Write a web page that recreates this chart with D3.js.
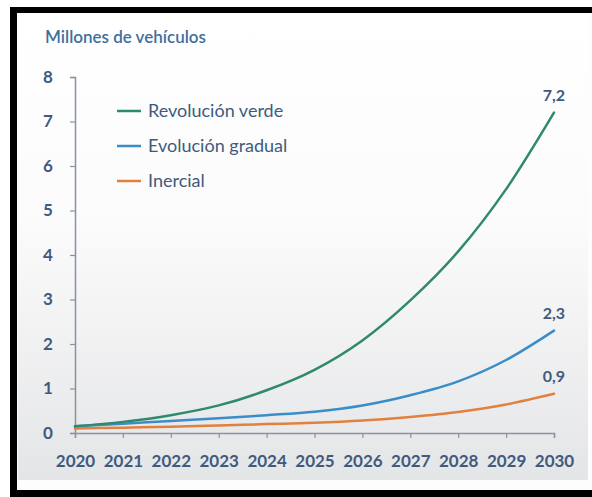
<!DOCTYPE html>
<html>
<head>
<meta charset="utf-8">
<script src="https://cdn.jsdelivr.net/npm/d3@7"></script>
<style>
  html, body { margin: 0; padding: 0; background: #fff; }
  text { font-family: Lato, "Open Sans", sans-serif; }
</style>
</head>
<body>
<div id="chart"></div>
<script>
// data
const years = [2020, 2021, 2022, 2023, 2024, 2025, 2026, 2027, 2028, 2029, 2030]
const revolucionVerde = [0.15, 0.25, 0.40, 0.62, 0.96, 1.42, 2.08, 2.98, 4.08, 5.48, 7.2]
const evolucionGradual = [0.15, 0.21, 0.27, 0.33, 0.40, 0.48, 0.62, 0.85, 1.16, 1.64, 2.3]
const inercial = [0.10, 0.12, 0.14, 0.17, 0.20, 0.23, 0.28, 0.36, 0.47, 0.64, 0.88]
const seriesNames = ["Revolución verde", "Evolución gradual", "Inercial"]
const endLabels = ["7,2", "2,3", "0,9"]
const yTicks = [0, 1, 2, 3, 4, 5, 6, 7, 8]
const colors = ["#2f8a6a", "#3b8dc9", "#e2803f"]

const W = 592, H = 497
const svg = d3.select("#chart").append("svg")
    .attr("width", W).attr("height", H)

// background and frame
const defs = svg.append("defs")
const grad = defs.append("linearGradient").attr("id", "bg")
    .attr("x1", 0).attr("y1", 0).attr("x2", 0).attr("y2", 1)
grad.append("stop").attr("offset", "0%").attr("stop-color", "#ffffff")
grad.append("stop").attr("offset", "45%").attr("stop-color", "#fbfbfb")
grad.append("stop").attr("offset", "100%").attr("stop-color", "#e4e5e7")

svg.append("rect").attr("x", 0).attr("y", 0).attr("width", W).attr("height", H).attr("fill", "#fff")
svg.append("rect").attr("x", 10).attr("y", 7).attr("width", W - 10).attr("height", 490).attr("fill", "#000")
svg.append("rect").attr("x", 17).attr("y", 13).attr("width", W - 17).attr("height", 477).attr("fill", "#fdfdfd")
svg.append("rect").attr("x", 18).attr("y", 14).attr("width", 570).attr("height", 466).attr("fill", "url(#bg)")

// scales
const x = d3.scaleLinear().domain([2020, 2030]).range([75, 554])
const y = d3.scaleLinear().domain([0, 8]).range([433, 77])

// title
svg.append("text")
    .attr("x", 45).attr("y", 43)
    .attr("fill", "#3f6f9c")
    .attr("font-size", 17)
    .attr("font-weight", 600)
    .text("Millones de vehículos")

const axisColor = "#8593a3"
const labelColor = "#3f5a7e"

// y axis
const yAxis = svg.append("g")
    .attr("transform", "translate(75,0)")
    .call(d3.axisLeft(y).tickValues(yTicks).tickSize(5).tickPadding(20).tickFormat(d3.format("d")))
yAxis.select(".domain").attr("stroke", axisColor).attr("stroke-width", 1.5)
yAxis.selectAll(".tick line").attr("stroke", axisColor).attr("stroke-width", 1.2)
yAxis.selectAll(".tick text")
    .attr("fill", labelColor).attr("font-size", 17).attr("font-weight", 700)
    .attr("text-anchor", "middle").attr("x", -27)

// x axis
const xAxis = svg.append("g")
    .attr("transform", "translate(0,433)")
    .call(d3.axisBottom(x).tickValues(years).tickSize(5).tickPadding(17).tickFormat(d3.format("d")))
xAxis.select(".domain").attr("stroke", axisColor).attr("stroke-width", 1.5)
xAxis.selectAll(".tick line").attr("stroke", axisColor).attr("stroke-width", 1.2)
xAxis.selectAll(".tick text")
    .attr("fill", labelColor).attr("font-size", 17).attr("font-weight", 700)

// lines
const allSeries = [revolucionVerde, evolucionGradual, inercial]
const line = d3.line()
    .curve(d3.curveMonotoneX)
    .x((d, i) => x(years[i]))
    .y(d => y(d))

allSeries.slice().reverse().forEach((s, k) => {
    const i = allSeries.length - 1 - k
    svg.append("path")
        .datum(s)
        .attr("fill", "none")
        .attr("stroke", colors[i])
        .attr("stroke-width", 2.5)
        .attr("stroke-linecap", "round")
        .attr("d", line)
})

// end labels
allSeries.forEach((s, i) => {
    svg.append("text")
        .attr("x", x(2030)).attr("y", y(s[s.length - 1]) - 12)
        .attr("text-anchor", "middle")
        .attr("fill", labelColor)
        .attr("font-size", 16)
        .attr("font-weight", 700)
        .text(endLabels[i])
})

// legend
seriesNames.forEach((name, i) => {
    const ly = 111 + i * 35
    svg.append("line")
        .attr("x1", 117).attr("x2", 141)
        .attr("y1", ly).attr("y2", ly)
        .attr("stroke", colors[i]).attr("stroke-width", 2.5)
    svg.append("text")
        .attr("x", 148).attr("y", ly + 6)
        .attr("fill", labelColor)
        .attr("font-size", 18)
        .text(name)
})
</script>
</body>
</html>
